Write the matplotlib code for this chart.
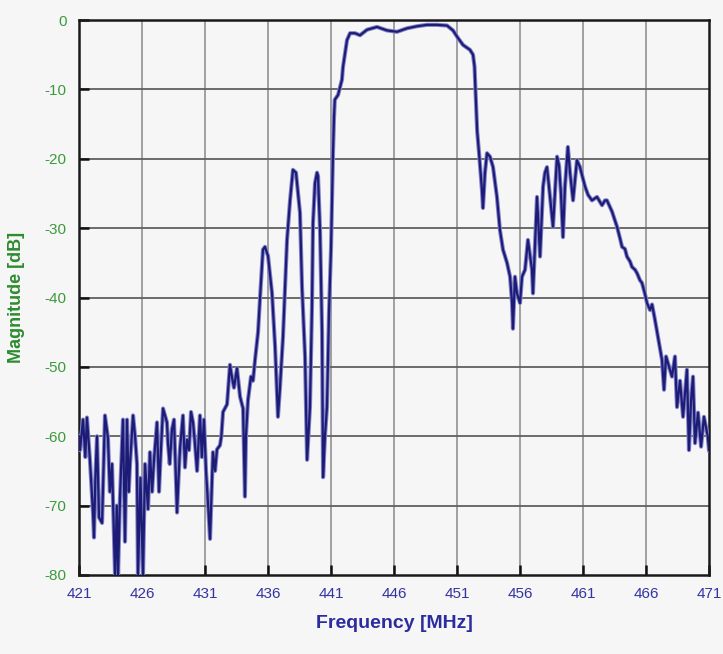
import matplotlib
matplotlib.use('Agg')
import matplotlib.pyplot as plt

# measured response (MHz, dB)
freq = [421.0, 421.08, 421.32, 421.50, 421.63, 421.87, 422.11, 422.19, 422.30, 422.43, 422.59, 422.83,
        423.06, 423.30, 423.45, 423.62, 423.86, 424.00, 424.10, 424.25, 424.49, 424.65, 424.81, 424.95, 425.05,
        425.29, 425.45, 425.60, 425.68, 425.88, 426.08, 426.24, 426.48, 426.63, 426.80, 426.95, 427.19, 427.35,
        427.50, 427.67, 427.98, 428.06, 428.20, 428.38, 428.54, 428.78, 428.90, 429.02, 429.25, 429.41, 429.57,
        429.73, 429.89, 430.05, 430.20, 430.37, 430.60, 430.75, 430.92, 431.08, 431.25, 431.40, 431.63, 431.80,
        431.95, 432.19, 432.30,
        432.43, 432.75, 432.98, 433.14, 433.30, 433.54, 433.78, 434.02, 434.17, 434.25,
        434.41, 434.65, 434.81, 434.97, 435.21, 435.37, 435.60, 435.76, 436.0, 436.32,
        436.56, 436.79, 436.95, 437.19, 437.51, 437.75, 437.98, 438.22, 438.54, 438.70,
        438.94, 439.10, 439.33, 439.49, 439.57, 439.73, 439.89, 439.97, 440.13, 440.29,
        440.37, 440.52, 440.68, 440.84, 441.0, 441.16, 441.24, 441.30, 441.56, 441.87,
        441.95, 442.27, 442.51, 442.90, 443.30, 443.86, 444.65, 445.44, 446.24, 447.03,
        447.83, 448.62, 449.41, 450.21, 450.68, 451.08, 451.48, 452.03, 452.27, 452.39,
        452.50, 452.60, 452.75, 452.98, 453.06, 453.22, 453.38, 453.62, 453.86, 454.17,
        454.41, 454.65, 454.97, 455.21, 455.37, 455.44, 455.60, 455.76, 456.0, 456.16,
        456.40, 456.63, 456.95, 457.03, 457.35, 457.59, 457.83, 457.98, 458.14, 458.30,
        458.62, 458.94, 459.10, 459.25, 459.41, 459.57, 459.80, 459.97, 460.21, 460.52,
        460.76, 461.16, 461.40, 461.71, 462.11, 462.51, 462.75, 462.90, 463.30, 463.70,
        463.94, 464.10, 464.33, 464.49, 464.73, 464.89, 465.13, 465.29, 465.52, 465.68,
        465.92, 466.08, 466.32, 466.48, 466.71, 466.95, 467.27, 467.43, 467.59, 467.83,
        468.06, 468.30, 468.46, 468.70, 468.94, 469.25, 469.41, 469.57, 469.73, 469.89,
        470.13, 470.37, 470.60, 470.90, 471.0]
mag = [-60.0, -62.0, -57.6, -63.0, -57.3, -63.5, -71.0, -74.6, -66.0, -60.0, -71.7, -72.5,
       -57.0, -60.3, -68.0, -64.0, -80.0, -70.0, -80.0, -69.0, -57.6, -75.2, -57.6, -68.0, -64.0,
       -57.0, -60.0, -64.0, -80.0, -66.0, -80.0, -64.0, -70.5, -62.3, -68.0, -63.5, -58.0, -68.0,
       -62.0, -56.0, -58.0, -61.0, -64.0, -59.0, -57.6, -71.0, -66.0, -61.7, -57.0, -64.5, -60.5,
       -62.0, -56.5, -58.0, -61.0, -65.0, -57.0, -63.0, -57.6, -65.0, -70.0, -74.8, -62.3, -65.0,
       -61.9, -61.3, -60.0,
       -56.5, -55.4, -49.7, -51.5, -53.0, -50.2, -54.3, -56.0, -68.7, -60.0,
       -54.8, -51.4, -52.0, -49.0, -45.0, -40.0, -33.1, -32.7, -34.0, -39.4,
       -47.0, -57.2, -53.0, -45.7, -31.7, -26.0, -21.6, -22.0, -27.8, -38.5,
       -48.5, -63.4, -55.8, -41.4, -29.3, -23.5, -22.0, -22.5, -30.3, -45.0,
       -65.9, -60.0, -55.8, -42.2, -33.0, -19.0, -14.0, -11.5, -10.8, -8.6,
       -6.8, -2.9, -1.9, -1.9, -2.2, -1.4, -1.0, -1.5, -1.7, -1.2,
       -0.9, -0.7, -0.7, -0.8, -1.5, -2.6, -3.6, -4.3, -5.0, -6.7,
       -11.5, -16.0, -19.2, -24.5, -27.1, -22.0, -19.2, -19.7, -21.2, -25.5,
       -30.3, -33.1, -35.0, -37.0, -40.8, -44.5, -37.0, -39.4, -40.8, -37.0,
       -36.0, -31.7, -36.0, -39.4, -25.5, -34.1, -24.0, -22.0, -21.2, -24.0,
       -29.8, -19.7, -21.0, -25.0, -31.3, -24.0, -18.3, -22.0, -26.0, -20.2,
       -21.2, -24.0, -25.2, -26.0, -25.5, -26.7, -26.0, -26.0, -27.6, -29.8,
       -31.5, -32.7, -33.0, -34.1, -34.8, -35.6, -36.0, -36.5, -37.5, -37.9,
       -39.5, -40.8, -41.8, -41.0, -43.2, -45.7, -49.0, -53.3, -48.5, -50.0,
       -51.4, -48.5, -55.8, -52.0, -57.2, -50.4, -62.0, -55.0, -51.4, -61.0,
       -56.6, -61.5, -57.2, -60.0, -62.0]

xticks = [421, 426, 431, 436, 441, 446, 451, 456, 461, 466, 471]
yticks = [0, -10, -20, -30, -40, -50, -60, -70, -80]

plt.rcParams['font.family'] = ['Liberation Sans Narrow', 'Liberation Sans', 'DejaVu Sans']
plt.rcParams['axes.unicode_minus'] = False

bg = '#f6f6f6'
fig = plt.figure(figsize=(7.23, 6.54), dpi=100, facecolor=bg)
ax = fig.add_axes([79/723, 79/654, 630/723, 555/654], facecolor=bg)

ax.plot(freq, mag, color='#8484c8', lw=3.0, zorder=3)
ax.plot(freq, mag, color='#1c1c76', lw=1.6, zorder=4)

for x in xticks[1:-1]:
    ax.axvline(x, color='#9a9a9a', lw=1.3, zorder=1)
for y in yticks[1:-1]:
    ax.axhline(y, color='#606060', lw=1.3, zorder=1)

ax.set_xlim(421, 471)
ax.set_ylim(-80, 0)
ax.set_xticks(xticks)
ax.set_yticks(yticks)
ax.tick_params(axis='both', direction='in', length=7, width=1.8, color='#111111')
ax.tick_params(axis='y', labelcolor='#3c9a3c', labelsize=11, pad=9)
ax.tick_params(axis='x', labelcolor='#3434a0', labelsize=11, pad=9)
for s in ax.spines.values():
    s.set_color('#1a1a1a')
    s.set_linewidth(1.8)

ax.set_xlabel('Frequency [MHz]', color='#2c2ca0', fontsize=14, fontweight='bold', labelpad=10)
ax.set_ylabel('Magnitude [dB]', color='#2e8b2e', fontsize=13, fontweight='bold', labelpad=14)

fig.savefig('out.png', dpi=100, facecolor=bg)
